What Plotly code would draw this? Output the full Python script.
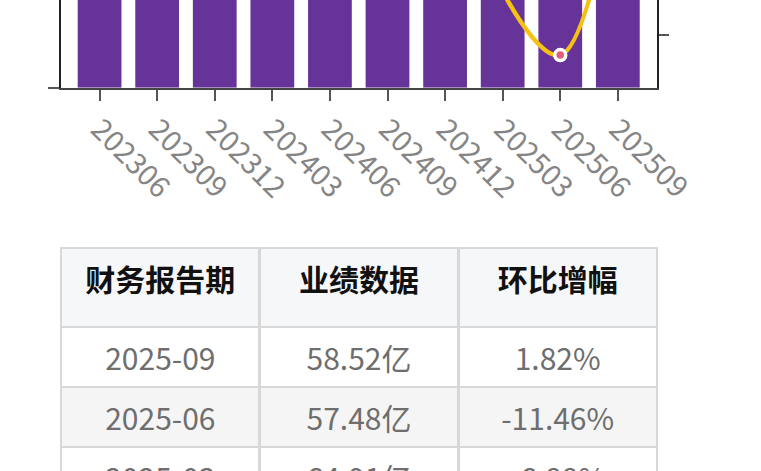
import plotly.graph_objects as go

# chart data (bars = 业绩数据 in 亿, line = 环比增幅 in %)
periods = ["202306", "202309", "202312", "202403", "202406",
           "202409", "202412", "202503", "202506", "202509"]
revenue = [52.30, 55.10, 61.80, 58.40, 60.20, 63.50, 69.70, 64.91, 57.48, 58.52]
qoq_pct = [4.60, 5.35, 12.16, -5.50, 3.08, 5.48, 9.76, -6.88, -11.46, 1.82]

# table data
tbl_header = ["财务报告期", "业绩数据", "环比增幅"]
tbl_period = ["2025-09", "2025-06", "2025-03"]
tbl_value = ["58.52亿", "57.48亿", "64.91亿"]
tbl_change = ["1.82%", "-11.46%", "-6.88%"]

W, H = 761, 471
FONT = "Noto Sans CJK SC"
TXT = 30


def cell(s):
    # plotly tables top-align text; an empty small first line pushes it to mid-row
    return f"<br><span style='font-size:{TXT}px'>{s}</span>"


fig = go.Figure()
fig.add_trace(go.Bar(x=periods, y=revenue, marker=dict(color="#663399", line=dict(width=0)),
                     yaxis="y", showlegend=False))
fig.add_trace(go.Scatter(x=periods, y=qoq_pct, yaxis="y2", mode="lines+markers",
                         line=dict(color="#f5c211", width=4.5, shape="spline", smoothing=1),
                         marker=dict(size=11, color="#e35d7a", line=dict(color="white", width=3.5)),
                         showlegend=False))

fig.add_trace(go.Table(
    domain=dict(x=[0, 1], y=[0, 1 - 248 / H]),
    columnwidth=[1, 1, 1],
    header=dict(values=[f"<b>{h}</b>" for h in tbl_header], height=79,
                fill_color="#f6f7f9", line=dict(color="#d8d8d8", width=2.5),
                align="center", font=dict(family=FONT, size=TXT, color="#111111")),
    cells=dict(values=[[cell(v) for v in col] for col in (tbl_period, tbl_value, tbl_change)],
               height=60,
               fill_color=[["#ffffff", "#f5f5f5", "#ffffff"]],
               line=dict(color="#d8d8d8", width=2.5),
               align="center", font=dict(family=FONT, size=12, color="#6e6e6e")),
))

fig.update_layout(
    width=W, height=H,
    margin=dict(l=61, r=104, t=0, b=0),
    paper_bgcolor="white", plot_bgcolor="white",
    bargap=0.24,
    xaxis=dict(type="category", range=[-0.67, 9.68], showline=True, linecolor="#444444",
               linewidth=2, ticks="outside", ticklen=11, tickwidth=2, tickcolor="#555555",
               tickangle=45, tickfont=dict(family=FONT, size=29, color="#858585"),
               showgrid=False, zeroline=False, automargin=False, anchor="y"),
    yaxis=dict(domain=[1 - 87.7 / H, 1], range=[0, 12], showline=True, linecolor="#222222",
               linewidth=2, ticks="outside", ticklen=11, tickwidth=2, tickcolor="#555555",
               tickvals=[0], showticklabels=False, showgrid=False, zeroline=False,
               automargin=False),
    yaxis2=dict(overlaying="y", side="right", range=[-13.81, -7.5], showline=True,
                linecolor="#222222", linewidth=2, ticks="outside", ticklen=10, tickwidth=2,
                tickcolor="#555555", tickvals=[-10], showticklabels=False, showgrid=False,
                zeroline=False, automargin=False),
)

# page body has a default 8px margin; drop it so the figure sits at the window corner
fig.write_html("out.html", config={"displayModeBar": False},
               post_script="document.body.style.margin='0';")
